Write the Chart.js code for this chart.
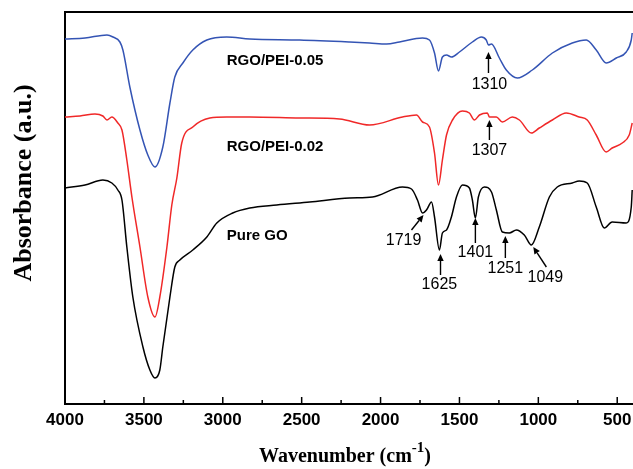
<!DOCTYPE html>
<html>
<head>
<meta charset="utf-8">
<title>FTIR spectra</title>
<script src="https://cdn.jsdelivr.net/npm/chart.js@4.4.1/dist/chart.umd.min.js"></script>
<style>
    html, body { margin: 0; padding: 0; background: #fff; }
    #wrap { width: 633px; height: 469px; }
</style>
</head>
<body>
<div id="wrap"><canvas id="ftir-chart" width="633" height="469"></canvas></div>
<script>
(function () {
    "use strict";

    // Spectra (wavenumber in cm-1, absorbance in arbitrary units)
    var pei05Wave = [4000, 3873, 3734, 3696, 3652, 3633, 3589, 3525, 3475, 3430, 3380, 3335, 3304, 3253, 3190, 3101, 2975, 2829, 2513, 2196, 2070, 1962, 1880, 1734, 1690, 1658, 1633, 1608, 1582, 1551, 1500, 1418, 1361, 1330, 1316, 1297, 1247, 1203, 1133, 1038, 911, 785, 696, 633, 570, 506, 443, 411, 405];
    var pei05Abs = [365, 366, 369, 367, 362, 354, 317, 274, 249, 237, 257, 301, 327, 341, 354, 364, 367, 365, 364, 362, 361, 360, 362, 366, 364, 351, 333, 347, 349, 347, 352, 362, 367, 364, 359, 360, 346, 334, 326, 334, 351, 361, 364, 354, 341, 346, 352, 364, 371];

    var pei02Wave = [4000, 3905, 3810, 3760, 3734, 3703, 3665, 3639, 3608, 3576, 3525, 3475, 3430, 3399, 3354, 3323, 3291, 3260, 3190, 3082, 2975, 2829, 2513, 2260, 2070, 1861, 1772, 1734, 1690, 1658, 1633, 1608, 1582, 1544, 1481, 1437, 1405, 1373, 1323, 1310, 1266, 1228, 1165, 1120, 1044, 994, 911, 823, 741, 690, 633, 570, 532, 468, 424, 405];
    var pei02Abs = [287, 288, 290, 288, 284, 287, 281, 274, 244, 207, 157, 107, 87, 107, 157, 199, 226, 261, 277, 286, 287, 287, 286, 285, 279, 287, 289, 282, 277, 251, 219, 244, 269, 284, 293, 291, 284, 289, 291, 287, 287, 282, 287, 284, 271, 276, 284, 291, 287, 284, 269, 252, 256, 261, 269, 281];

    var goWave = [4000, 3873, 3760, 3703, 3665, 3639, 3608, 3570, 3506, 3462, 3430, 3399, 3380, 3335, 3304, 3272, 3190, 3101, 3038, 2937, 2829, 2658, 2449, 2196, 2051, 1861, 1804, 1766, 1734, 1709, 1677, 1658, 1627, 1608, 1582, 1551, 1519, 1481, 1437, 1418, 1399, 1380, 1342, 1297, 1266, 1228, 1184, 1139, 1089, 1044, 994, 930, 880, 785, 741, 690, 633, 582, 532, 443, 411, 405];
    var goAbs = [216, 219, 224, 221, 214, 204, 157, 107, 57, 34, 26, 34, 57, 107, 137, 144, 154, 167, 181, 191, 196, 199, 202, 206, 207, 217, 215, 204, 191, 194, 202, 187, 154, 171, 174, 187, 207, 219, 216, 204, 186, 207, 217, 212, 194, 172, 171, 174, 169, 159, 177, 207, 217, 221, 223, 221, 197, 176, 182, 181, 197, 214];

    // Axis ticks
    var majorTicks = [4000, 3500, 3000, 2500, 2000, 1500, 1000, 500];
    var minorTicks = [3750, 3250, 2750, 2250, 1750, 1250, 750];

    // Text on the plot: series names and marked peaks
    var seriesNames = [
        { text: "RGO/PEI-0.05", at: [2975, 343] },
        { text: "RGO/PEI-0.02", at: [2975, 257] },
        { text: "Pure GO", at: [2975, 168] }
    ];
    var peakMarks = [
        { text: "1310", label: [1310, 319], tail: [1316, 331], tip: [1316, 352] },
        { text: "1307", label: [1310, 253], tail: [1310, 264], tip: [1310, 284] },
        { text: "1719", label: [1854, 163], tail: [1804, 174], tip: [1728, 189] },
        { text: "1625", label: [1627, 119], tail: [1620, 129], tip: [1620, 150] },
        { text: "1401", label: [1399, 151], tail: [1399, 161], tip: [1399, 186] },
        { text: "1251", label: [1209, 135], tail: [1209, 146], tip: [1209, 168] },
        { text: "1049", label: [956, 126], tail: [949, 137], tip: [1032, 157] }
    ];

    function toPoints(xs, ys) {
        return xs.map(function (x, i) { return { x: x, y: ys[i] }; });
    }

    // Frame, inward ticks, labels, arrows and axis titles
    var decorations = {
        id: "decorations",
        afterDraw: function (chart) {
            var ctx = chart.ctx;
            var xs = chart.scales.x, ys = chart.scales.y;
            var area = chart.chartArea;

            ctx.save();
            ctx.strokeStyle = "#000";
            ctx.lineWidth = 2;
            ctx.beginPath();
            ctx.moveTo(area.left, area.top);
            ctx.lineTo(area.right, area.top);
            ctx.stroke();

            ctx.lineWidth = 1.5;
            majorTicks.forEach(function (v) {
                var px = xs.getPixelForValue(v);
                ctx.beginPath();
                ctx.moveTo(px, area.bottom);
                ctx.lineTo(px, area.bottom - 7);
                ctx.stroke();
            });
            minorTicks.forEach(function (v) {
                var px = xs.getPixelForValue(v);
                ctx.beginPath();
                ctx.moveTo(px, area.bottom);
                ctx.lineTo(px, area.bottom - 4);
                ctx.stroke();
            });

            ctx.fillStyle = "#000";
            ctx.textBaseline = "middle";
            ctx.textAlign = "left";
            ctx.font = "bold 15px 'Liberation Sans', Arial, sans-serif";
            seriesNames.forEach(function (s) {
                ctx.fillText(s.text, xs.getPixelForValue(s.at[0]), ys.getPixelForValue(s.at[1]));
            });

            ctx.textAlign = "center";
            ctx.font = "16px 'Liberation Sans', Arial, sans-serif";
            ctx.lineWidth = 1.4;
            peakMarks.forEach(function (p) {
                ctx.fillText(p.text, xs.getPixelForValue(p.label[0]), ys.getPixelForValue(p.label[1]));
                var x0 = xs.getPixelForValue(p.tail[0]), y0 = ys.getPixelForValue(p.tail[1]);
                var x1 = xs.getPixelForValue(p.tip[0]), y1 = ys.getPixelForValue(p.tip[1]);
                var ang = Math.atan2(y1 - y0, x1 - x0);
                var head = 7, half = 3.2;
                var bx = x1 - head * Math.cos(ang), by = y1 - head * Math.sin(ang);
                ctx.beginPath();
                ctx.moveTo(x0, y0);
                ctx.lineTo(bx, by);
                ctx.stroke();
                ctx.beginPath();
                ctx.moveTo(x1, y1);
                ctx.lineTo(bx + half * Math.sin(ang), by - half * Math.cos(ang));
                ctx.lineTo(bx - half * Math.sin(ang), by + half * Math.cos(ang));
                ctx.closePath();
                ctx.fill();
            });

            // x title with superscript
            var main = "Wavenumber (cm", sup = "-1", end = ")";
            ctx.textAlign = "left";
            ctx.textBaseline = "alphabetic";
            ctx.font = "bold 20px 'Liberation Serif', 'Times New Roman', serif";
            var w1 = ctx.measureText(main).width, w3 = ctx.measureText(end).width;
            ctx.font = "bold 15px 'Liberation Serif', 'Times New Roman', serif";
            var w2 = ctx.measureText(sup).width;
            var sx = (area.left + area.right) / 2 - 4 - (w1 + w2 + w3) / 2;
            var base = 462;
            ctx.font = "bold 20px 'Liberation Serif', 'Times New Roman', serif";
            ctx.fillText(main, sx, base);
            ctx.fillText(end, sx + w1 + w2, base);
            ctx.font = "bold 15px 'Liberation Serif', 'Times New Roman', serif";
            ctx.fillText(sup, sx + w1, base - 10);

            // y title
            ctx.translate(24, 183);
            ctx.rotate(-Math.PI / 2);
            ctx.textAlign = "center";
            ctx.textBaseline = "middle";
            ctx.font = "bold 26px 'Liberation Serif', 'Times New Roman', serif";
            ctx.fillText("Absorbance (a.u.)", 0, 0);
            ctx.restore();
        }
    };

    // FTIR line chart
    var ctx1 = document.getElementById("ftir-chart").getContext("2d");
    var myChart1 = new Chart(ctx1, {
        type: "line",
        data: {
            datasets: [{
                label: "RGO/PEI-0.05",
                data: toPoints(pei05Wave, pei05Abs),
                borderColor: "#3454b4",
                borderWidth: 1.5
            }, {
                label: "RGO/PEI-0.02",
                data: toPoints(pei02Wave, pei02Abs),
                borderColor: "#f02828",
                borderWidth: 1.5
            }, {
                label: "Pure GO",
                data: toPoints(goWave, goAbs),
                borderColor: "#000000",
                borderWidth: 1.5
            }]
        },
        options: {
            responsive: false,
            animation: false,
            cubicInterpolationMode: "monotone",
            elements: { point: { radius: 0 } },
            layout: { padding: { top: 12, right: 0, bottom: 0, left: 0 } },
            plugins: {
                legend: { display: false },
                tooltip: { enabled: false }
            },
            scales: {
                x: {
                    type: "linear",
                    reverse: true,
                    min: 400,
                    max: 4000,
                    afterBuildTicks: function (scale) {
                        scale.ticks = majorTicks.map(function (v) { return { value: v }; });
                    },
                    afterFit: function (scale) {
                        scale.height = 65;
                        scale.paddingLeft = 0;
                        scale.paddingRight = 0;
                    },
                    grid: { display: false, drawTicks: false },
                    border: { display: true, color: "#000", width: 2 },
                    ticks: {
                        autoSkip: false,
                        maxRotation: 0,
                        padding: 6,
                        color: "#000",
                        font: { family: "'Liberation Sans', Arial, sans-serif", size: 17, weight: "bold" },
                        callback: function (value) { return String(value); }
                    }
                },
                y: {
                    min: 0,
                    max: 392,
                    afterFit: function (scale) {
                        scale.width = 65;
                    },
                    grid: { display: false },
                    border: { display: true, color: "#000", width: 2 },
                    ticks: { display: false }
                }
            }
        },
        plugins: [decorations]
    });

})();
</script>
</body>
</html>
